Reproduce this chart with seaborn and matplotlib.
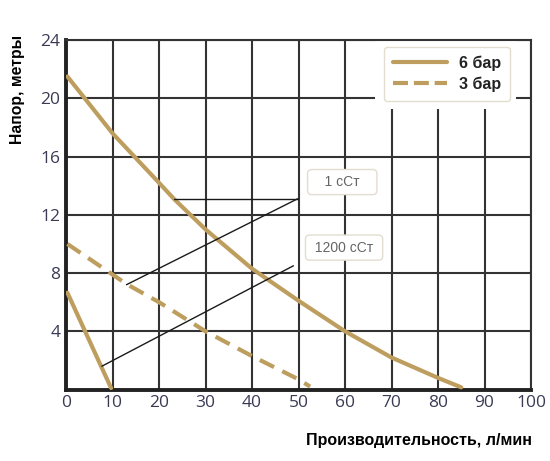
import pandas as pd
import matplotlib
matplotlib.use('Agg')
import matplotlib.pyplot as plt
from matplotlib.patches import Rectangle
from matplotlib.lines import Line2D
import seaborn as sns

# ---- data ----
flow_6bar = [0.3, 10, 20, 23.2, 30, 40, 50, 60, 70, 80, 85]
head_6bar = [21.5, 17.6, 14.2, 13.1, 11.0, 8.3, 6.1, 4.0, 2.2, 0.8, 0.15]

flow_3bar = [0.3, 10, 13, 20, 30, 40, 50, 52.5]
head_3bar = [10.0, 7.9, 7.25, 6.0, 4.0, 2.3, 0.7, 0.2]

flow_6bar_visc = [0.3, 9.7]
head_6bar_visc = [6.65, 0.1]

# pointer lines: (label anchor) -> points on curves
ptr_1cst_x = [23.2, 49.8, 13.0]
ptr_1cst_y = [13.1, 13.1, 7.2]
ptr_1200_x = [48.9, 7.7]
ptr_1200_y = [8.5, 1.6]

x_ticks = list(range(0, 101, 10))
y_ticks = [4, 8, 12, 16, 20, 24]

GOLD = '#BE9E5E'
GRID = '#333333'

sns.set_theme(style='white')
plt.rcParams['font.family'] = ['DejaVu Sans']

fig = plt.figure(figsize=(5.5, 4.61), dpi=100)
ax = fig.add_axes([0.12, 0.155, 0.8455, 0.758])

df6 = pd.DataFrame({'q': flow_6bar, 'h': head_6bar})
df3 = pd.DataFrame({'q': flow_3bar, 'h': head_3bar})
dfv = pd.DataFrame({'q': flow_6bar_visc, 'h': head_6bar_visc})

sns.lineplot(data=df6, x='q', y='h', sort=False, color=GOLD, lw=3, ax=ax, zorder=3)
sns.lineplot(data=df3, x='q', y='h', sort=False, color=GOLD, lw=3, ax=ax, zorder=3,
             linestyle=(0, (3.8, 2.2)))
sns.lineplot(data=dfv, x='q', y='h', sort=False, color=GOLD, lw=3, ax=ax, zorder=3)

ax.plot([ptr_1cst_x[0], ptr_1cst_x[1]], [ptr_1cst_y[0], ptr_1cst_y[1]], color='#1a1a1a', lw=1, zorder=4)
ax.plot([ptr_1cst_x[1], ptr_1cst_x[2]], [ptr_1cst_y[1], ptr_1cst_y[2]], color='#1a1a1a', lw=1, zorder=4)
ax.plot(ptr_1200_x, ptr_1200_y, color='#1a1a1a', lw=1, zorder=4)

box = dict(boxstyle='round,pad=0.4,rounding_size=0.3', fc='white', ec='#e2ddd0', lw=1)
ax.text(59.4, 14.25, '   1 сСт   ', ha='center', va='center', fontsize=10,
        color='#666666', family='Liberation Sans', bbox=box, zorder=5)
ax.text(59.8, 9.75, ' 1200 сСт ', ha='center', va='center', fontsize=10,
        color='#666666', family='Liberation Sans', bbox=box, zorder=5)

ax.set_xlim(0, 100)
ax.set_ylim(0, 24)
ax.set_xticks(x_ticks)
ax.set_yticks(y_ticks)
ax.grid(True, color=GRID, lw=1.5)
ax.set_axisbelow(True)
ax.tick_params(axis='both', length=0, labelsize=12.5, labelcolor='#3a3a55', pad=4)
for lab in ax.get_xticklabels() + ax.get_yticklabels():
    lab.set_family('Open Sans')
ax.set_xlabel('')
ax.set_ylabel('')

for side in ['top', 'right']:
    ax.spines[side].set_color(GRID)
    ax.spines[side].set_linewidth(1.5)
for side in ['left', 'bottom']:
    ax.spines[side].set_color('#222222')
    ax.spines[side].set_linewidth(2.8)

# white gap behind legend
ax.add_patch(Rectangle((66.5, 19.3), 30.2, 4.7, fc='white', ec='none', zorder=2,
                       transform=ax.transData, clip_on=False))

handles = [Line2D([], [], color=GOLD, lw=3),
           Line2D([], [], color=GOLD, lw=3, linestyle=(0, (3.6, 1.4)))]
leg = ax.legend(handles, ['6 бар', '3 бар'], loc='upper right',
                bbox_to_anchor=(0.955, 0.981), borderaxespad=0, frameon=True, fancybox=True,
                handlelength=3.4, handletextpad=0.75, labelspacing=0.35,
                borderpad=0.55, prop={'family': 'Liberation Sans', 'weight': 'bold', 'size': 11.5})
leg.get_frame().set_edgecolor('#e2ddd0')
leg.get_frame().set_facecolor('white')
leg.get_frame().set_alpha(1)
leg.set_zorder(6)
for t in leg.get_texts():
    t.set_color('#222222')

fig.text(0.031, 0.805, 'Напор, метры', rotation=90, ha='center', va='center',
         fontsize=11.3, fontweight='bold', family='Liberation Sans', color='black')
fig.text(0.9665, 0.045, 'Производительность, л/мин', ha='right', va='center',
         fontsize=11.5, fontweight='bold', family='Liberation Sans', color='black')

fig.savefig('out.png', dpi=100)
